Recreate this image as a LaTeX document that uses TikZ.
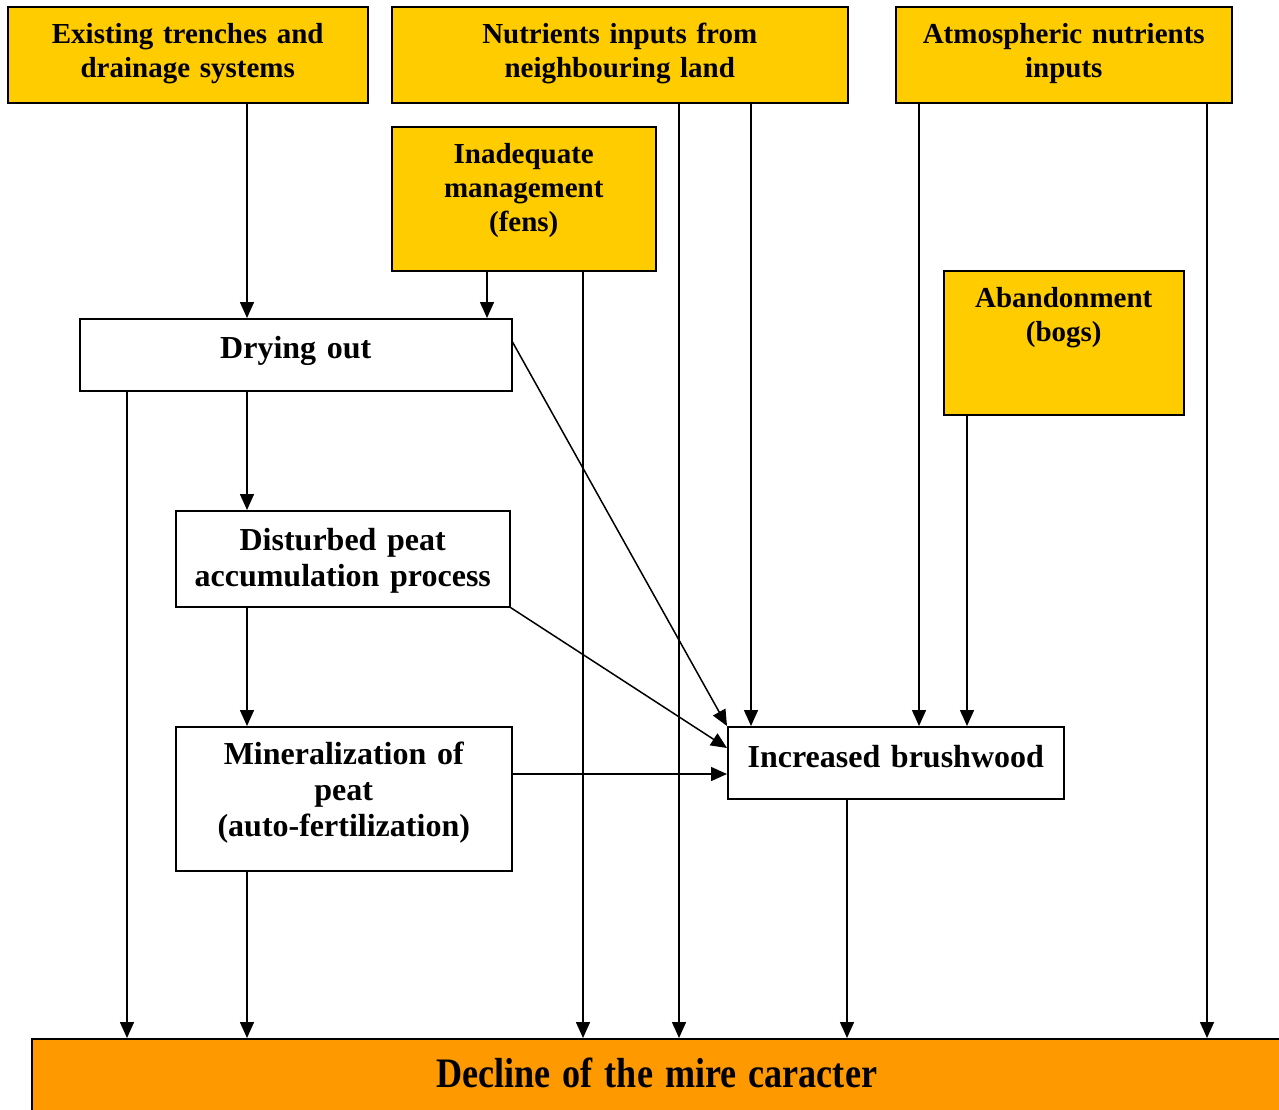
\documentclass[tikz,border=0pt]{standalone}
\usepackage{fontspec}
\setmainfont{Liberation Serif}
\usepackage{graphicx}
\usepackage{tikz}
\usetikzlibrary{arrows.meta}
\usepackage{xcolor}
\definecolor{srcyellow}{HTML}{FFCC00}
\definecolor{declineorange}{HTML}{FF9900}

\begin{document}
\begin{tikzpicture}[x=1pt, y=-1pt,
srcbox/.style={draw,
rectangle,
fill=srcyellow,
line width=1.5pt,
inner sep=0pt,
anchor=north west,
align=center,
text height=37pt,
font=\fontsize{29}{34}\selectfont\bfseries},
stepbox/.style={draw,
rectangle,
fill=white,
line width=1.5pt,
inner sep=0pt,
anchor=north west,
align=center,
text height=40pt,
font=\fontsize{32}{36}\selectfont\bfseries},
declinebox/.style={draw,
rectangle,
fill=declineorange,
line width=1.5pt,
inner sep=0pt,
anchor=north west,
align=center,
text height=49pt,
font=\fontsize{42}{46}\selectfont\bfseries},
arrow/.style={-{Triangle[length=16pt, width=14pt]}, line width=1.5pt}
]

\fill[white] (0,0) rectangle (1279,1109);
\useasboundingbox (0,0) rectangle (1279,1109);

% sources
\node[srcbox, text width=360pt, text depth=59pt] (trench) at (7,6) {Existing trenches and\\drainage systems};
\node[srcbox, text width=456pt, text depth=59pt] (nbland) at (391,6) {Nutrients inputs from\\neighbouring land};
\node[srcbox, text width=336pt, text depth=59pt] (atmos) at (895,6) {Atmospheric nutrients\\inputs};
\node[srcbox, text width=264pt, text depth=107pt] (manage) at (391,126) {Inadequate\\management\\(fens)};
\node[srcbox, text width=240pt, text depth=107pt] (aband) at (943,270) {Abandonment\\(bogs)};

% steps
\node[stepbox, text width=432pt, text depth=32pt, text height=40pt] (drying) at (79,318) {Drying out};
\node[stepbox, text width=334pt, text depth=56pt] (peat) at (175,510) {Disturbed peat\\accumulation process};
\node[stepbox, text width=336pt, text depth=106pt, text height=38pt] (mineral) at (175,726) {Mineralization of\\peat\\(auto-fertilization)};
\node[stepbox, text width=336pt, text depth=31pt, text height=41pt] (brush) at (727,726) {Increased brushwood};

\node[declinebox, text width=1250pt, text depth=23pt] (decline) at (31,1038) {\scalebox{0.86}[1]{Decline of the mire caracter}};

\draw[arrow] (trench.south -| 247,0) -- (drying.north -| 247,0);
\draw[arrow] (manage.south -| 487,0) -- (drying.north -| 487,0);
\draw[arrow] (drying.south -| 247,0) -- (peat.north -| 247,0);
\draw[arrow] (peat.south -| 247,0) -- (mineral.north -| 247,0);
\draw[arrow] (drying.south -| 127,0) -- (decline.north -| 127,0);
\draw[arrow] (mineral.south -| 247,0) -- (decline.north -| 247,0);
\draw[arrow] (manage.south -| 583,0) -- (decline.north -| 583,0);
\draw[arrow] (nbland.south -| 679,0) -- (decline.north -| 679,0);
\draw[arrow] (nbland.south -| 751,0) -- (brush.north -| 751,0);
\draw[arrow] (atmos.south -| 919,0) -- (brush.north -| 919,0);
\draw[arrow] (aband.south -| 967,0) -- (brush.north -| 967,0);
\draw[arrow] (atmos.south -| 1207,0) -- (decline.north -| 1207,0);
\draw[arrow] (brush.south -| 847,0) -- (decline.north -| 847,0);
\draw[arrow] (drying.east |- 0,342) -- (brush.north west);
\draw[arrow] (peat.south east) -- (brush.west |- 0,748);
\draw[arrow] (mineral.east |- 0,774) -- (brush.west |- 0,774);

\end{tikzpicture}
\end{document}
